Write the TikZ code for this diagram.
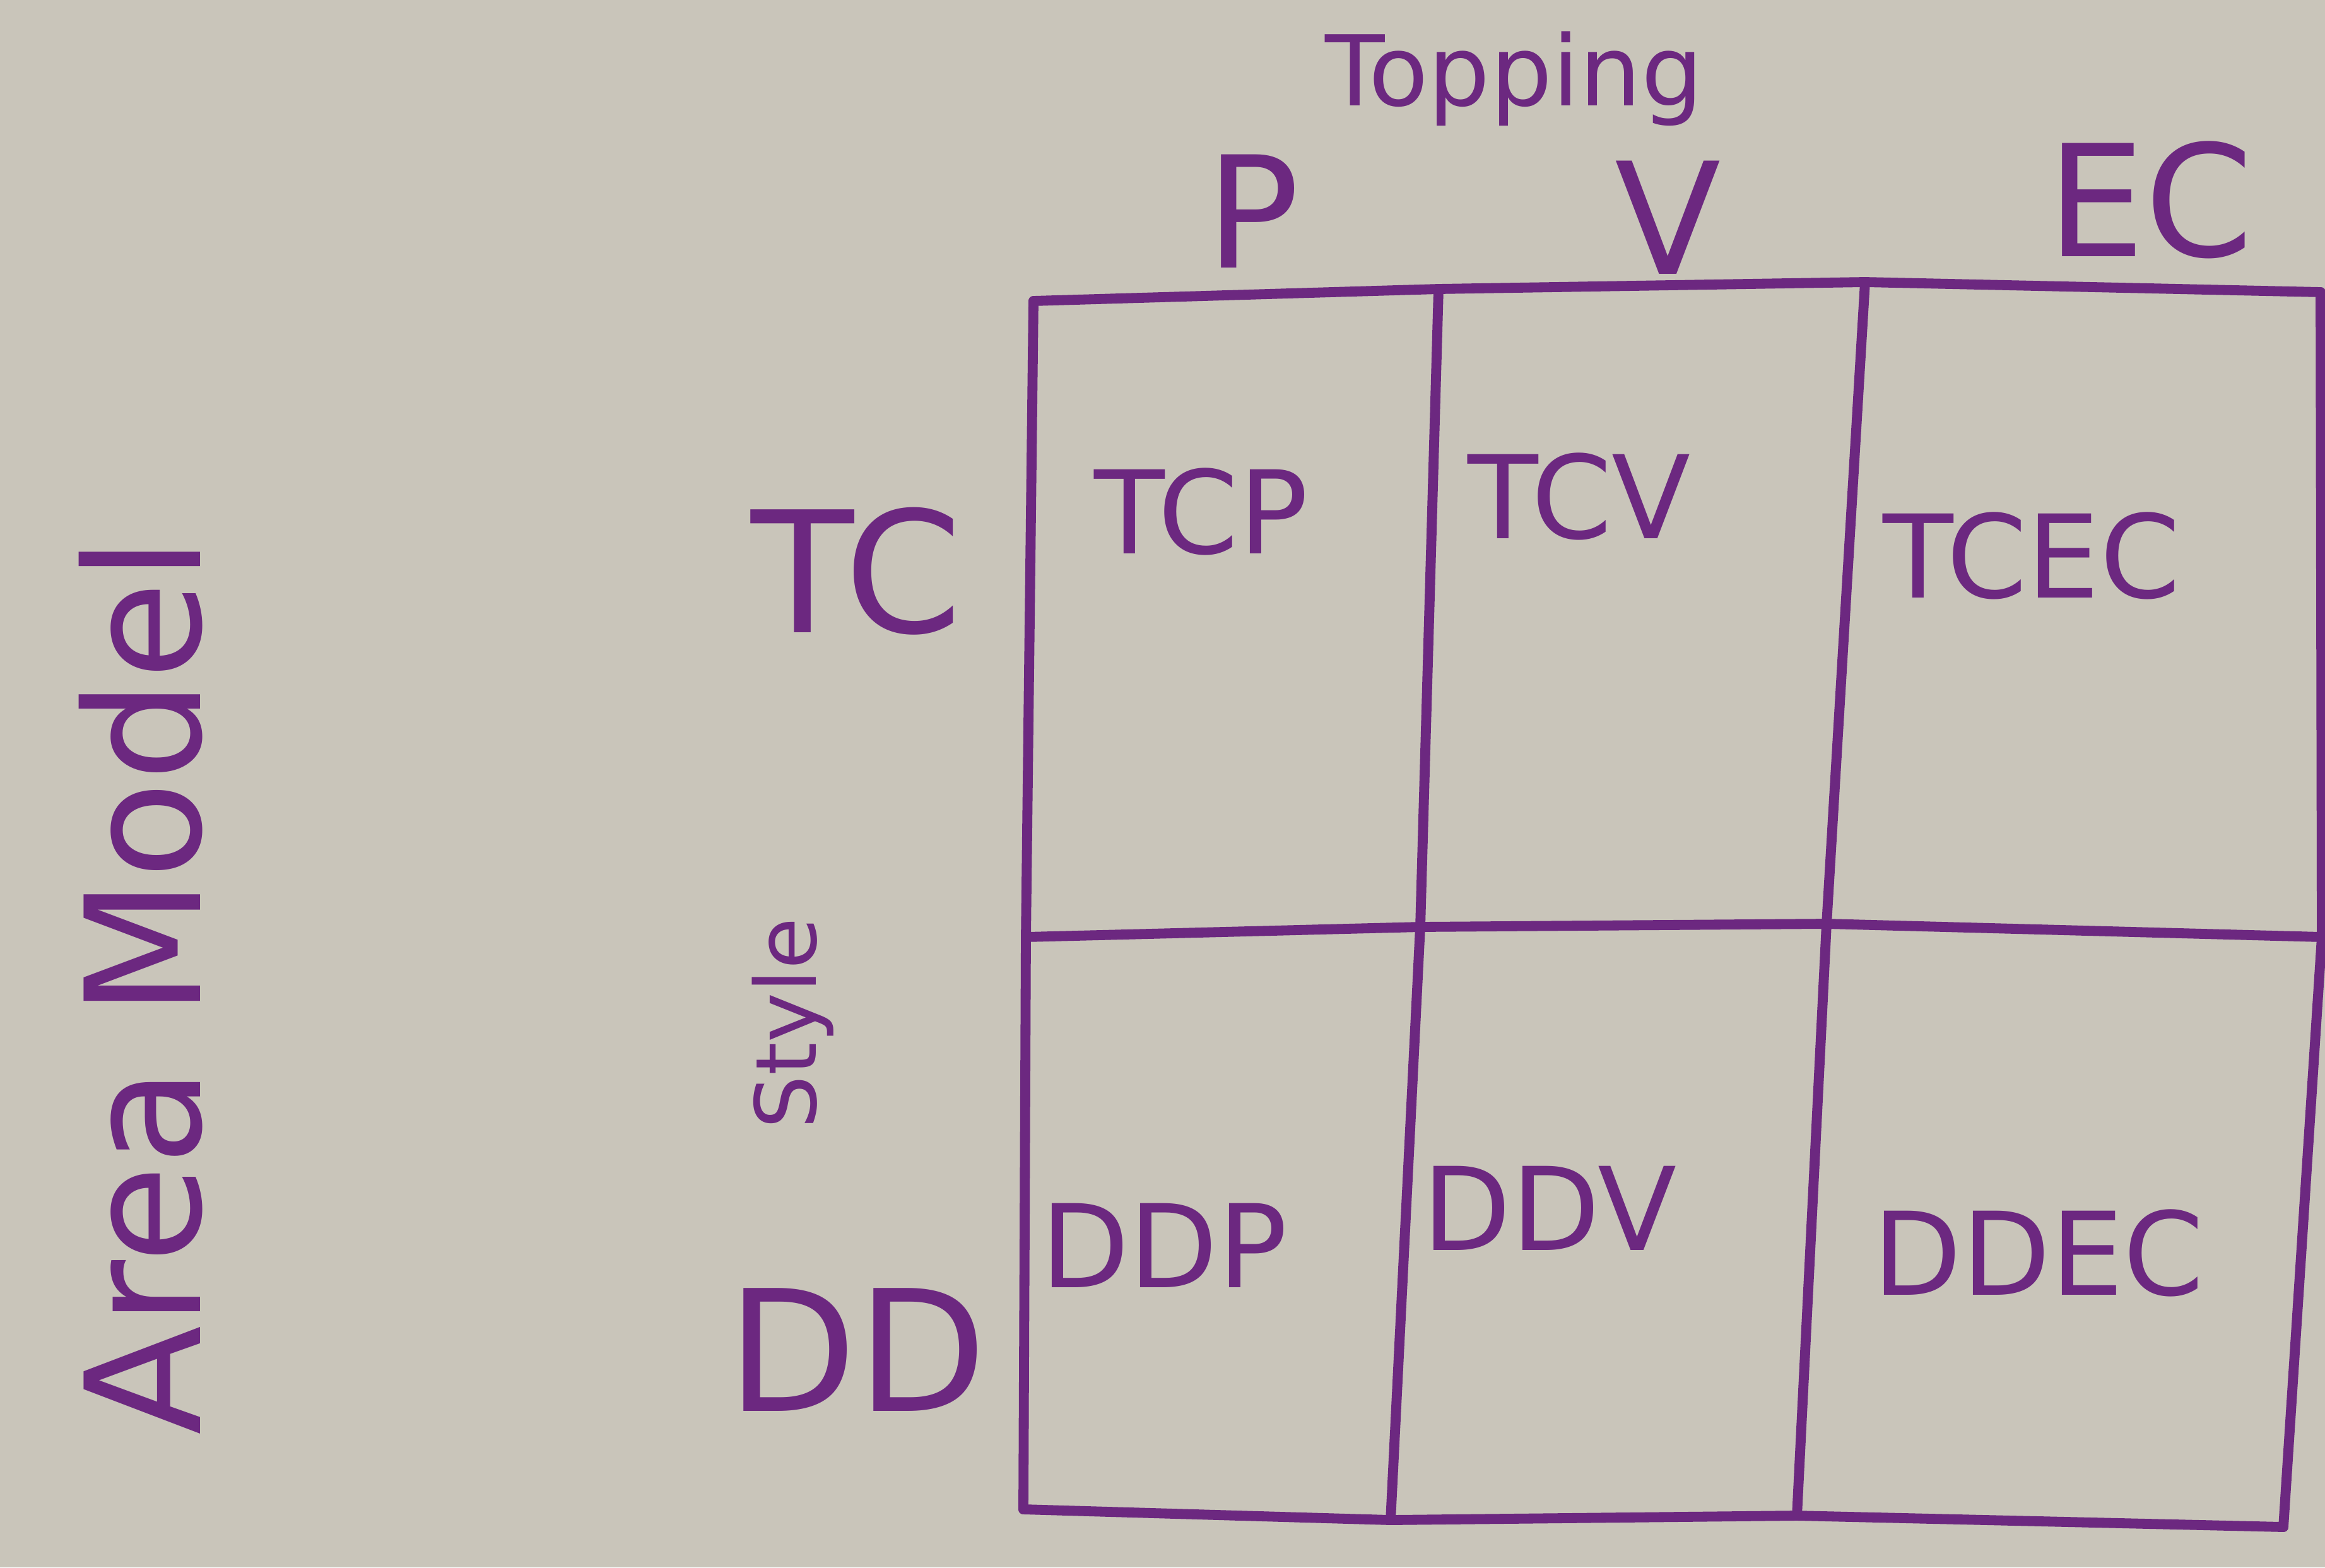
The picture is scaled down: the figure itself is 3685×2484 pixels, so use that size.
\documentclass[tikz,border=0pt]{standalone}
\usepackage{fontspec}
\setmainfont{DejaVu Sans}
\definecolor{paper}{RGB}{201,197,186}
\definecolor{ink}{RGB}{108,40,128}
\begin{document}
\begin{tikzpicture}[x=0.01cm,y=-0.01cm,
  gridline/.style={draw=ink,line width=4.5pt,line cap=round,line join=round},
  lbl/.style={text=ink,inner sep=0pt,font=\fontsize{70}{70}\selectfont},
  cell/.style={text=ink,inner sep=0pt,font=\fontsize{52}{52}\selectfont}]
\fill[paper] (0,0) rectangle (3685,2484);
\useasboundingbox (0,0) rectangle (3685,2484);
% grid corners
\coordinate (tl) at (1638,477);
\coordinate (t1) at (2280,458);
\coordinate (t2) at (2956,447);
\coordinate (tr) at (3678,463);
\coordinate (ml) at (1626,1485);
\coordinate (m1) at (2251,1469);
\coordinate (m2) at (2895,1464);
\coordinate (mr) at (3680,1485);
\coordinate (bl) at (1622,2392);
\coordinate (b1) at (2204,2409);
\coordinate (b2) at (2848,2402);
\coordinate (br) at (3619,2420);
% outline and dividers
\draw[gridline] (tl) -- (t1) -- (t2) -- (tr);
\draw[gridline] (ml) -- (m1) -- (m2) -- (mr);
\draw[gridline] (bl) -- (b1) -- (b2) -- (br);
\draw[gridline] (tl) -- (ml) -- (bl);
\draw[gridline] (t1) -- (m1) -- (b1);
\draw[gridline] (t2) -- (m2) -- (b2);
\draw[gridline] (tr) -- (mr) -- (br);
% headers
\node[lbl,font=\fontsize{44}{44}\selectfont] (topping) at (2400,125) {Topping};
\node[lbl] (hP) at (1986,335) {P};
\node[lbl] (hV) at (2644,345) {V};
\node[lbl] (hEC) at (3408,317) {EC};
\node[lbl,font=\fontsize{76}{76}\selectfont] (hTC) at (1358,905) {TC};
\node[lbl,font=\fontsize{76}{76}\selectfont] (hDD) at (1358,2139) {DD};
\node[lbl,font=\fontsize{38}{38}\selectfont,rotate=90] (style) at (1257,1622) {Style};
\node[lbl,font=\fontsize{72}{72}\selectfont,rotate=90] (area) at (223,1563) {Area Model};
% cells
\node[cell] (tcp) at (1904,811) {TCP};
\node[cell] (tcv) at (2503,787) {TCV};
\node[cell] (tcec) at (3220,881) {TCEC};
\node[cell] (ddp) at (1845,1974) {DDP};
\node[cell] (ddv) at (2456,1915) {DDV};
\node[cell] (ddec) at (3231,1986) {DDEC};
\end{tikzpicture}
\end{document}
